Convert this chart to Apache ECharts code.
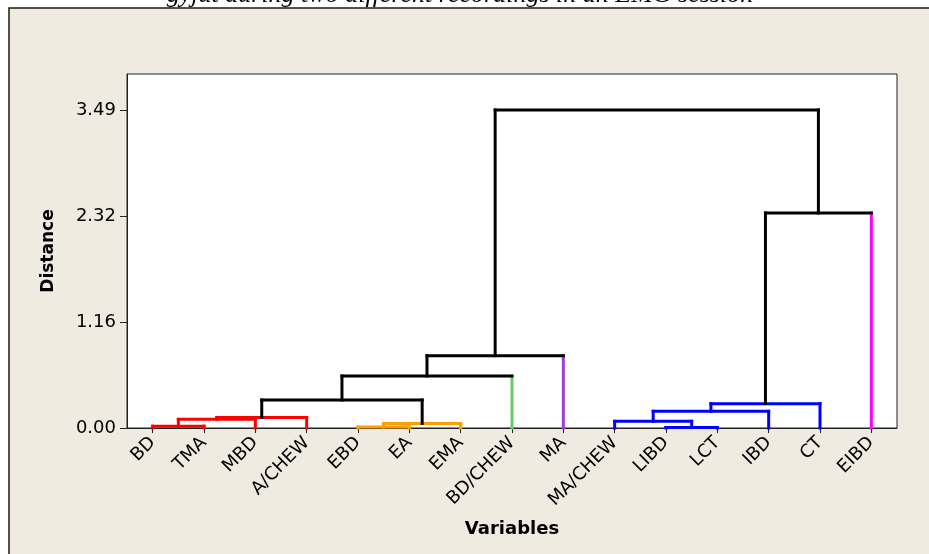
<!DOCTYPE html>
<html>
<head>
<meta charset="utf-8">
<title>Dendrogram</title>
<script src="https://cdn.jsdelivr.net/npm/echarts@6/dist/echarts.min.js"></script>
<style>
  html, body { margin: 0; padding: 0; background: #ffffff; }
  #chart { width: 929px; height: 554px; }
</style>
</head>
<body>
<div id="chart"></div>
<script>
// Leaves of the dendrogram, left to right
const leafNames = ['BD', 'TMA', 'MBD', 'A/CHEW', 'EBD', 'EA', 'EMA', 'BD/CHEW', 'MA',
                   'MA/CHEW', 'LIBD', 'LCT', 'IBD', 'CT', 'EIBD'];
// Final cluster each leaf belongs to
const leafGroups = ['c1', 'c1', 'c1', 'c1', 'c2', 'c2', 'c2', 'c3', 'c4',
                    'c5', 'c5', 'c5', 'c5', 'c5', 'c6'];

// Agglomeration steps: node ids 0..14 are leaves, step k creates node 15 + k
const mergeLeft   = [0, 15, 16, 4, 18, 17, 20, 21, 10, 9, 24, 25, 26, 22];
const mergeRight  = [1, 2, 3, 5, 6, 19, 7, 8, 11, 23, 12, 13, 14, 27];
const mergeHeight = [0.02, 0.095, 0.115, 0.01, 0.05, 0.307, 0.571, 0.794,
                     0.005, 0.073, 0.183, 0.267, 2.36, 3.49];

// Distance axis ticks
const yTickValues = [0, 1.1633, 2.3267, 3.49];
const yTickLabels = ['0.00', '1.16', '2.32', '3.49'];
const yAxisMax = 3.885;

const titleText = 'gyjut during two different recordings in an EMG session';

// Styling
const groupColors = { c1: '#ff0000', c2: '#ff9e00', c3: '#66cc66', c4: '#9b3fd6', c5: '#0000ff', c6: '#ff00ff' };
const linkColor = '#000000';
const labelFont = 'DejaVu Sans';

const nLeaves = leafNames.length;

// Group shared by every leaf under a node, or null for mixed nodes
function nodeGroup(id) {
  if (id < nLeaves) return leafGroups[id];
  const m = id - nLeaves;
  const a = nodeGroup(mergeLeft[m]);
  const b = nodeGroup(mergeRight[m]);
  return a !== null && a === b ? a : null;
}

// Pixel position of a node's top
function nodePos(id, api) {
  if (id < nLeaves) {
    const p = api.coord([id, 0]);
    return { x: p[0], y: p[1], leaf: true };
  }
  const m = id - nLeaves;
  const a = nodePos(mergeLeft[m], api);
  const b = nodePos(mergeRight[m], api);
  const y = api.coord([0, mergeHeight[m]])[1];
  return { x: (a.x + b.x) / 2, y: y, leaf: false };
}

function seg(x1, y1, x2, y2, color) {
  return {
    type: 'line',
    shape: { x1: x1, y1: y1, x2: x2, y2: y2 },
    style: { stroke: color, lineWidth: 3, lineCap: 'square' }
  };
}

function renderLink(params, api) {
  const m = params.dataIndex;
  const lId = mergeLeft[m], rId = mergeRight[m];
  const a = nodePos(lId, api);
  const b = nodePos(rId, api);
  const y = api.coord([0, mergeHeight[m]])[1];
  const g = nodeGroup(nLeaves + m);
  const mc = g ? groupColors[g] : linkColor;
  const ca = a.leaf ? groupColors[leafGroups[lId]] : mc;
  const cb = b.leaf ? groupColors[leafGroups[rId]] : mc;
  return {
    type: 'group',
    children: [
      seg(a.x, a.y, a.x, y, ca),
      seg(b.x, b.y, b.x, y, cb),
      seg(a.x, y, b.x, y, mc)
    ]
  };
}

const chart = echarts.init(document.getElementById('chart'), null, { renderer: 'canvas' });

chart.setOption({
  backgroundColor: '#ffffff',
  animation: false,
  graphic: [
    {
      type: 'rect',
      z: -10,
      shape: { x: 9, y: 8, width: 940, height: 570 },
      style: { fill: '#efebe1', stroke: '#1a1a1a', lineWidth: 1.5 }
    },
    {
      type: 'text',
      z: -5,
      x: 460,
      y: 8,
      style: {
        text: titleText,
        font: 'italic 26px "Liberation Serif"',
        fill: '#000000',
        align: 'center',
        verticalAlign: 'bottom'
      }
    }
  ],
  grid: {
    left: 127, top: 74, right: 32, bottom: 126,
    show: true,
    backgroundColor: '#ffffff',
    borderColor: '#222222',
    borderWidth: 1
  },
  xAxis: {
    type: 'category',
    data: leafNames,
    boundaryGap: true,
    name: 'Variables',
    nameLocation: 'middle',
    nameGap: 92,
    nameTextStyle: { fontFamily: labelFont, fontWeight: 'bold', fontSize: 18, color: '#000' },
    axisLine: { show: true, lineStyle: { color: '#222222', width: 1 } },
    axisTick: { show: true, alignWithLabel: true, length: 5, lineStyle: { color: '#222222' } },
    axisLabel: { rotate: 45, fontFamily: labelFont, fontSize: 18, color: '#000', margin: 12, interval: 0 },
    splitLine: { show: false }
  },
  yAxis: {
    type: 'value',
    min: 0,
    max: yAxisMax,
    name: 'Distance',
    nameLocation: 'middle',
    nameGap: 70,
    nameRotate: 90,
    nameTextStyle: { fontFamily: labelFont, fontWeight: 'bold', fontSize: 17, color: '#000' },
    axisLine: { show: true, lineStyle: { color: '#222222', width: 1 } },
    axisTick: { show: true, length: 7, customValues: yTickValues, lineStyle: { color: '#222222' } },
    axisLabel: {
      customValues: yTickValues,
      fontFamily: labelFont, fontSize: 18, color: '#000', margin: 11,
      formatter: function (v) {
        let best = 0;
        for (let i = 1; i < yTickValues.length; i++) {
          if (Math.abs(yTickValues[i] - v) < Math.abs(yTickValues[best] - v)) best = i;
        }
        return yTickLabels[best];
      }
    },
    splitLine: { show: false }
  },
  series: [
    {
      type: 'custom',
      coordinateSystem: 'cartesian2d',
      renderItem: renderLink,
      clip: false,
      data: mergeHeight.map(function (h, i) { return [mergeLeft[i] < nLeaves ? mergeLeft[i] : 0, h]; }),
      encode: { x: 0, y: 1 },
      silent: true
    }
  ]
});
</script>
</body>
</html>
